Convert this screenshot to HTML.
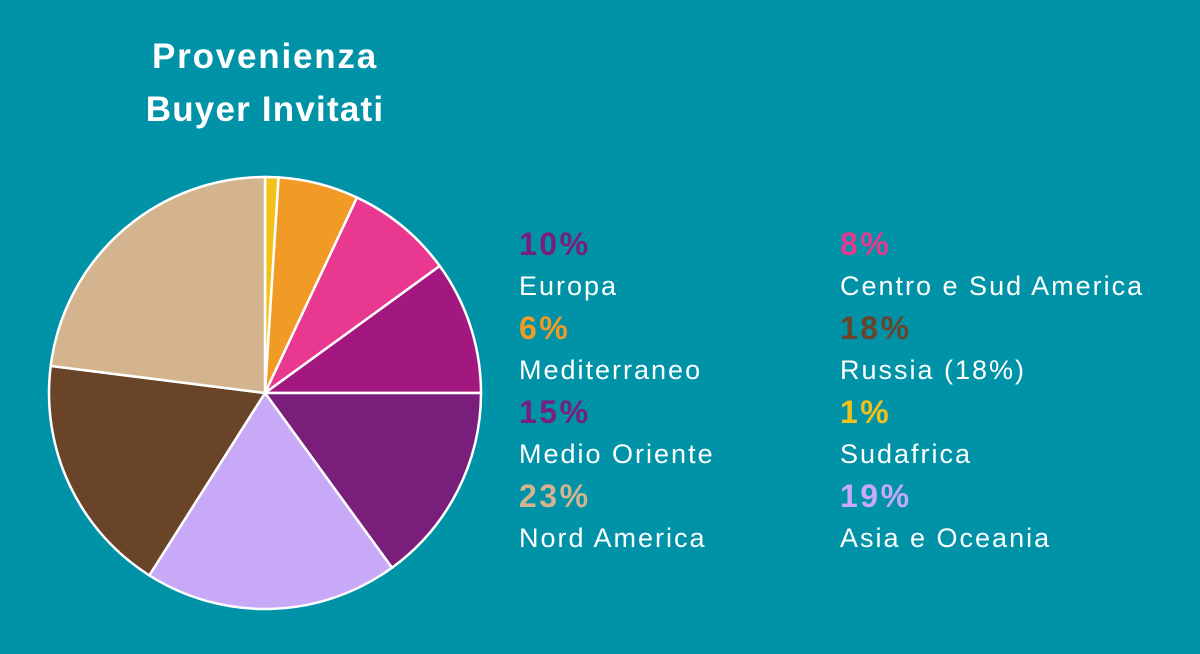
<!DOCTYPE html>
<html><head><meta charset="utf-8"><style>
html,body{margin:0;padding:0;}
body{width:1200px;height:649px;background:#0093a8;overflow:hidden;font-family:"Liberation Sans",sans-serif;}
</style></head><body>
<svg id="chart" width="1200" height="649" xmlns="http://www.w3.org/2000/svg">
<text x="265" y="68" text-anchor="middle" fill="#fff" font-family="Liberation Sans, sans-serif" font-weight="bold" font-size="35" letter-spacing="1.8">Provenienza</text>
<text x="265" y="121" text-anchor="middle" fill="#fff" font-family="Liberation Sans, sans-serif" font-weight="bold" font-size="35" letter-spacing="1.2">Buyer Invitati</text>
<g id="slices"></g>
<g id="legend"></g>
</svg>
<script>
const sliceLabels = ["Sudafrica","Mediterraneo","Centro e Sud America","Europa","Medio Oriente","Asia e Oceania","Russia","Nord America"];
const sliceValues = [1,6,8,10,15,19,18,23];
const sliceColors = ["#f2c21a","#f29a26","#e8388f","#a3187e","#7a1e7c","#c8a9f7","#6a4428","#d3b48f"];
const legendLabels = ["Europa","Centro e Sud America","Mediterraneo","Russia (18%)","Medio Oriente","Sudafrica","Nord America","Asia e Oceania"];
const legendValues = [10,8,6,18,15,1,23,19];
const legendColors = ["#7a1e7c","#e8388f","#f29a26","#6a4428","#7a1e7c","#f2c21a","#d3b48f","#c8a9f7"];

const NS="http://www.w3.org/2000/svg";
const cx=265, cy=393, r=216;
const total=sliceValues.reduce((a,b)=>a+b,0);
const g=document.getElementById('slices');
let acc=0;
function pt(f){const a=f*2*Math.PI-Math.PI/2;return [cx+r*Math.cos(a),cy+r*Math.sin(a)];}
sliceValues.forEach((v,i)=>{
  const f0=acc/total; acc+=v; const f1=acc/total;
  const p0=pt(f0), p1=pt(f1);
  const large=(f1-f0)>0.5?1:0;
  const p=document.createElementNS(NS,'path');
  p.setAttribute('d',`M${cx},${cy} L${p0[0]},${p0[1]} A${r},${r} 0 ${large} 1 ${p1[0]},${p1[1]} Z`);
  p.setAttribute('fill',sliceColors[i]);
  p.setAttribute('stroke','#fff');
  p.setAttribute('stroke-width','2.5');
  
  
  g.appendChild(p);
});
const lg=document.getElementById('legend');
legendValues.forEach((v,i)=>{
  const col=i%2, row=Math.floor(i/2);
  const x=col?840:519, y=255+row*84;
  const t=document.createElementNS(NS,'text');
  t.setAttribute('x',x);t.setAttribute('y',y);
  t.setAttribute('fill',legendColors[i]);
  t.setAttribute('font-size','32');t.setAttribute('font-weight','bold');
  t.setAttribute('letter-spacing','2.5');
  t.setAttribute('font-family','Liberation Sans, sans-serif');
  t.textContent=v+'%';
  
  
  lg.appendChild(t);
  const l=document.createElementNS(NS,'text');
  l.setAttribute('x',x);l.setAttribute('y',y+40);
  l.setAttribute('fill','#fff');
  l.setAttribute('font-size','27');
  l.setAttribute('letter-spacing','2');
  l.setAttribute('font-family','Liberation Sans, sans-serif');
  l.textContent=legendLabels[i];
  
  
  lg.appendChild(l);
});
</script>
</body></html>
